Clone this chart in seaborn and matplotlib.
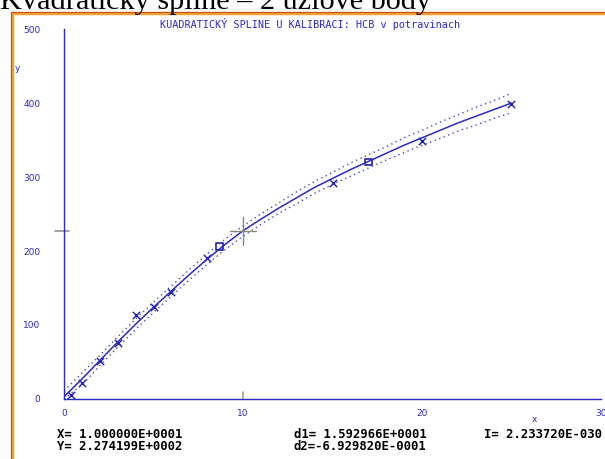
import matplotlib
matplotlib.use("Agg")
import matplotlib.pyplot as plt
import seaborn as sns

# measured calibration points (x marks)
pts_x = [0.4, 1, 2, 3, 4, 5, 6, 8, 15, 20, 25]
pts_y = [5, 22, 51, 76, 113, 124, 144, 190, 292, 349, 399]
# spline knots (squares)
knots_x = [8.7, 17]
knots_y = [206, 320]
# spline curve and its dotted confidence band
curve_x = list(range(0, 26))
curve_y = [3, 27, 52, 77, 101, 124, 146, 168, 189, 209, 227.4, 243, 258, 272, 286,
           298, 310, 321, 332, 343, 353, 363, 373, 382, 391, 400]
upper_y = [11, 35, 59, 84, 108, 131, 153, 175, 196, 216, 234, 250, 265, 280, 294,
           306, 319, 330, 341, 353, 363, 374, 384, 394, 403, 413]
lower_y = [0, 19, 45, 70, 94, 117, 139, 161, 182, 202, 220, 236, 251, 264, 278,
           290, 301, 312, 323, 333, 343, 352, 362, 370, 379, 387]
# cursor position
cur_x = 10
cur_y = 227.4199
x_ticks = [0, 10, 20, 30]
y_ticks = [0, 100, 200, 300, 400, 500]

blue = "#2a2ac8"
sns.set_style("white")
fig = plt.figure(figsize=(6.05, 4.59), dpi=100)

# orange frame of the screenshot
fig.add_artist(plt.Line2D([12/605, 12/605], [0, 1-13/459], color="#f0a030", lw=2.5))
fig.add_artist(plt.Line2D([12/605, 1], [1-13/459, 1-13/459], color="#f0a030", lw=2.5))
fig.add_artist(plt.Line2D([10.5/605, 10.5/605], [0, 1-12/459], color="#c04010", lw=0.6))
fig.add_artist(plt.Line2D([10.5/605, 1], [1-12/459, 1-12/459], color="#c04010", lw=0.6))

# heading of the page, cut at the top edge
fig.text(0.0, 1-9/459, "Kvadratický spline – 2 uzlové body", fontsize=21.8,
         family="Liberation Serif", va="baseline", ha="left", color="black")

ax = fig.add_axes([64/605, 1-399/459, (601-64)/605, (399-29)/459])
sns.lineplot(x=curve_x, y=curve_y, ax=ax, color=blue, lw=1.1)
sns.lineplot(x=curve_x, y=upper_y, ax=ax, color="#4848d8", lw=1, linestyle=(0, (1, 2.5)))
sns.lineplot(x=curve_x, y=lower_y, ax=ax, color="#4848d8", lw=1, linestyle=(0, (1, 2.5)))
sns.scatterplot(x=pts_x, y=pts_y, ax=ax, marker="x", s=28, color="#1c1cb0", linewidth=1)
sns.scatterplot(x=knots_x, y=knots_y, ax=ax, marker="s", s=22, facecolor="none",
                edgecolor="#1c1cb0", linewidth=1.2)

# crosshair cursor
ax.plot([cur_x - 0.7, cur_x + 0.7], [cur_y, cur_y], color="#8a8a70", lw=1)
ax.plot([cur_x, cur_x], [cur_y - 19, cur_y + 19], color="#8a8a70", lw=1)
ax.plot([-0.5, 0.3], [cur_y, cur_y], color="#909090", lw=1.2, clip_on=False)
ax.plot([cur_x, cur_x], [0, 10], color="#a0a080", lw=1.2, clip_on=False)

ax.set_xlim(0, 30)
ax.set_ylim(0, 500)
ax.set_xticks(x_ticks)
ax.set_yticks(y_ticks)
ax.set_xticklabels([str(t) for t in x_ticks])
ax.set_yticklabels([str(t) for t in y_ticks])
for s in ["top", "right"]:
    ax.spines[s].set_visible(False)
for s in ["left", "bottom"]:
    ax.spines[s].set_color(blue)
    ax.spines[s].set_linewidth(1)
ax.tick_params(axis="both", direction="in", length=3, color=blue, labelcolor=blue,
               labelsize=6.5)
ax.tick_params(axis="y", pad=17)
ax.tick_params(axis="x", pad=7)
ax.set_xlabel("")
ax.set_ylabel("")
ax.text(-2.6, 446, "y", color=blue, fontsize=6.5, ha="center", va="center", clip_on=False)
ax.text(26.3, -28, "x", color=blue, fontsize=6.5, ha="center", va="center", clip_on=False)

fig.text(310/605, 1-24/459, "KUADRATICKÝ SPLINE U KALIBRACI: HCB v potravinach",
         family="DejaVu Sans Mono", fontsize=7.3, color=blue, ha="center", va="center")

mono = dict(family="DejaVu Sans Mono", fontsize=8.8, weight="bold", color="black", va="center")
fig.text(57/605, 1-434/459, "X= 1.000000E+0001", **mono)
fig.text(57/605, 1-446/459, "Y= 2.274199E+0002", **mono)
fig.text(294/605, 1-434/459, "d1= 1.592966E+0001", **mono)
fig.text(294/605, 1-446/459, "d2=-6.929820E-0001", **mono)
fig.text(484/605, 1-434/459, "I= 2.233720E-030", **mono)

fig.savefig("out.png", dpi=100)
